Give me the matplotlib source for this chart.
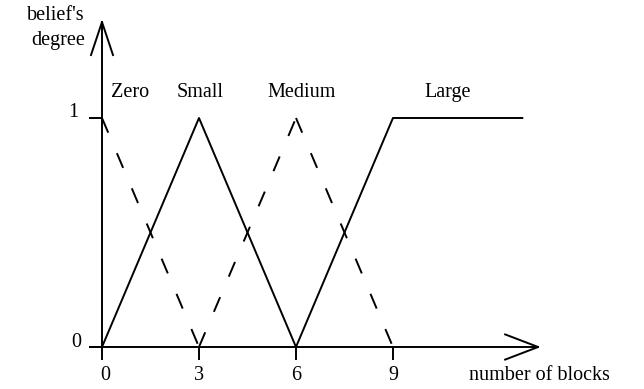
import matplotlib
matplotlib.use("Agg")
import matplotlib.pyplot as plt

plt.rcParams["font.family"] = ["Liberation Serif", "DejaVu Serif"]
plt.rcParams["lines.scale_dashes"] = False

# membership functions: breakpoints (number of blocks, belief's degree)
zero_x = [0, 3]
zero_y = [1, 0]
small_x = [0, 3, 6]
small_y = [0, 1, 0]
medium_x = [3, 6, 9]
medium_y = [0, 1, 0]
large_x = [6, 9, 13]
large_y = [0, 1, 1]

set_names = ["Zero", "Small", "Medium", "Large"]
name_x = [0.87, 3.03, 6.16, 10.7]

xticks = [0, 3, 6, 9]
yticks = [0, 1]

lw = 1.4
fs = 14.5
dash = (0, (11.5, 16.0))

fig = plt.figure(figsize=(6.44, 3.89), dpi=100)
ax = fig.add_axes([0, 0, 1, 1])
ax.set_xlim(-102 / 32.33, (644 - 102) / 32.33)
ax.set_ylim(-42 / 229, 347 / 229)
ax.axis("off")

ax.plot(zero_x, zero_y, color="k", lw=lw, linestyle=dash)
ax.plot(small_x, small_y, color="k", lw=lw)
# each dashed leg drawn on its own so dashes meet at the corners
ax.plot(medium_x[:2], medium_y[:2], color="k", lw=lw, linestyle=dash)
ax.plot(medium_x[1:], medium_y[1:], color="k", lw=lw, linestyle=dash)
ax.plot(large_x, large_y, color="k", lw=lw)

# axes with open arrow heads
x_tip, y_tip = 13.49, 1.419
ax.plot([-0.37, x_tip], [0, 0], color="k", lw=lw)
ax.plot([0, 0], [0, y_tip], color="k", lw=lw)
ax.plot([x_tip - 1.02, x_tip, x_tip - 1.02], [0.055, 0, -0.055], color="k", lw=lw)
ax.plot([-0.34, 0, 0.34], [y_tip - 0.144, y_tip, y_tip - 0.144], color="k", lw=lw)

for t in xticks:
    ax.plot([t, t], [0, -0.052], color="k", lw=lw)
    ax.text(t + (0.1 if t == 0 else 0), -0.144, str(t), ha="center", va="baseline", fontsize=fs)
for t in yticks:
    ax.plot([-0.37, 0], [t, t], color="k", lw=lw)
ax.text(-0.72, 1.004, "1", ha="right", va="baseline", fontsize=fs)
ax.text(-0.65, 0.0, "0", ha="right", va="baseline", fontsize=fs)

for name, nx in zip(set_names, name_x):
    ax.text(nx, 1.092, name, ha="center", va="baseline", fontsize=fs)

ax.text(11.35, -0.144, "number of blocks", ha="left", va="baseline", fontsize=fs)
ax.text(-0.53, 1.428, "belief's", ha="right", va="baseline", fontsize=fs)
ax.text(-0.53, 1.319, "degree", ha="right", va="baseline", fontsize=fs)

fig.savefig("out.png", dpi=100)
